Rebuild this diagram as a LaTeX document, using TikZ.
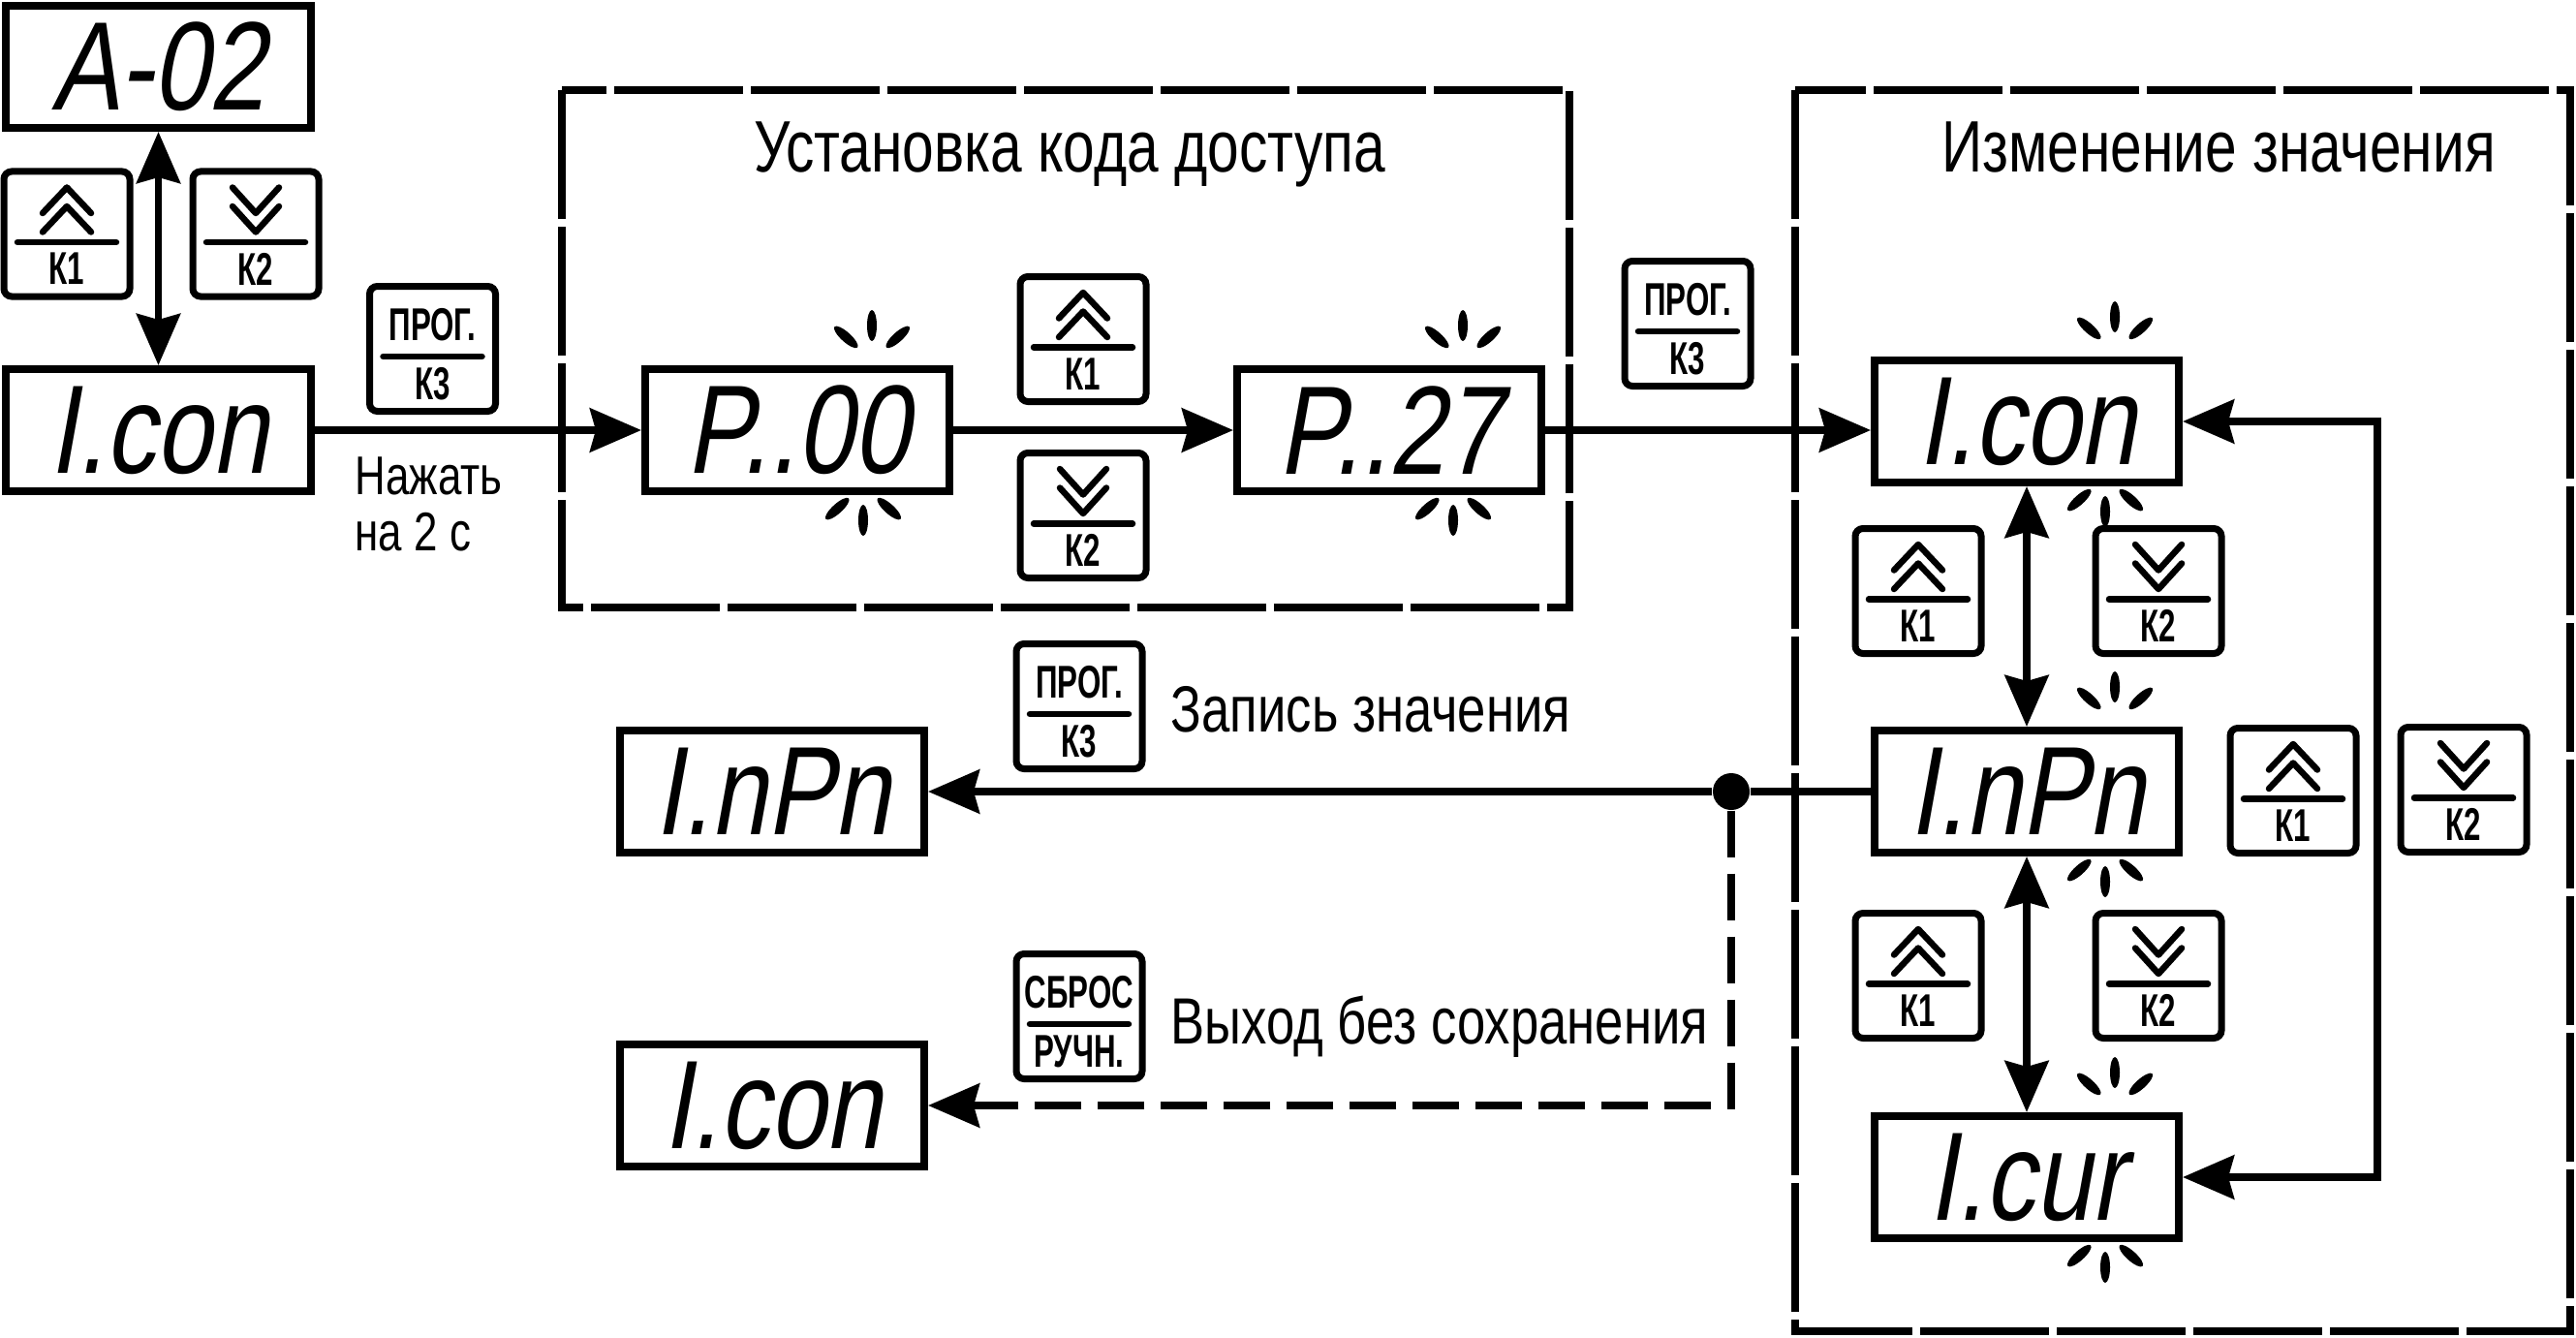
\documentclass[tikz,border=0pt]{standalone}
\usepackage{fontspec}
\setmainfont{Liberation Sans}[FakeStretch=0.78]
\newfontfamily\keyfont{Liberation Sans}[FakeStretch=0.66]
\newfontfamily\segfont{Liberation Sans}[FakeStretch=0.8,FakeSlant=0.18]
\usetikzlibrary{arrows.meta, positioning}

\tikzset{
  disp/.style={draw, line width=0.8mm, minimum width=3.14cm, minimum height=1.26cm,
    inner sep=0pt, font=\segfont\fontsize{37}{40}\selectfont},
  keybox/.style={draw, line width=0.7mm, rounded corners=0.8mm,
    minimum width=1.30cm, minimum height=1.29cm, inner sep=0pt},
  keytxt/.style={inner sep=0pt, font=\keyfont\bfseries\fontsize{13.5}{14}\selectfont},
  keybar/.style={line width=0.65mm, line cap=round, line join=round},
  frame/.style={line width=0.75mm, dash pattern=on 13.3mm off 0.8mm},
  link/.style={line width=0.75mm},
  title/.style={inner sep=0pt, font=\fontsize{21.4}{24}\selectfont},
  note/.style={inner sep=0pt, font=\fontsize{19.2}{22}\selectfont},
  hint/.style={inner sep=0pt, font=\fontsize{16}{18}\selectfont},
  pics/upkey/.style={code={
    \node[keybox] (-box) at (0,0) {};
    \draw[keybar] (-0.25,0.215) -- (0,0.48) -- (0.25,0.215)
                  (-0.25,0.02) -- (0,0.285) -- (0.25,0.02);
    \draw[keybar] (-0.51,-0.085) -- (0.51,-0.085);
    \node[keytxt] (-lbl) at (0,-0.36) {#1};
  }},
  pics/downkey/.style={code={
    \node[keybox] (-box) at (0,0) {};
    \draw[keybar] (-0.24,0.48) -- (0,0.215) -- (0.24,0.48)
                  (-0.24,0.285) -- (0,0.02) -- (0.24,0.285);
    \draw[keybar] (-0.51,-0.085) -- (0.51,-0.085);
    \node[keytxt] (-lbl) at (0,-0.36) {#1};
  }},
  pics/textkey/.style 2 args={code={
    \node[keybox] (-box) at (0,0) {};
    \node[keytxt] (-top) at (0,0.25) {#1};
    \draw[keybar] (-0.51,-0.08) -- (0.51,-0.08);
    \node[keytxt] (-lbl) at (0,-0.36) {#2};
  }},
  pics/blink/.style={code={
    \foreach \a in {-48,0,48}
      \fill[rotate=\a] (0,0.36) ellipse [x radius=0.05, y radius=0.16];
  }}
}

\begin{document}
\begin{tikzpicture}[>={Stealth[length=5.3mm, width=4.5mm, inset=0.6mm]}]
  \useasboundingbox (0,0) rectangle (26.59,-13.80);

  % frames
  \draw[frame] (5.80,-0.93) rectangle (16.20,-6.27);
  \draw[frame] (18.53,-0.93) rectangle (26.53,-13.74);
  \node[title, anchor=base] (setcode) at (11.04,-1.78) {Установка кода доступа};
  \node[title, anchor=base] (change) at (22.90,-1.78) {Изменение значения};

  % displays
  \node[disp] (a02) at (1.635,-0.69) {A-02};
  \node[disp] (con0) at (1.635,-4.44) {I.con};
  \node[disp] (p00) at (8.23,-4.44) {P..00};
  \node[disp] (p27) at (14.34,-4.44) {P..27};
  \node[disp] (con1) at (20.92,-4.35) {I.con};
  \node[disp] (npn1) at (20.92,-8.17) {I.nPn};
  \node[disp] (cur1) at (20.92,-12.15) {I.cur};
  \node[disp] (npn0) at (7.97,-8.17) {I.nPn};
  \node[disp] (con2) at (7.97,-11.41) {I.con};

  % keys
  \pic (k1a) at (0.69,-2.415) {upkey=К1};
  \pic (k2a) at (2.64,-2.415) {downkey=К2};
  \pic (prog0) at (4.465,-3.60) {textkey={ПРОГ.}{К3}};
  \pic (k1b) at (11.18,-3.50) {upkey=К1};
  \pic (k2b) at (11.18,-5.32) {downkey=К2};
  \pic (prog1) at (17.42,-3.34) {textkey={ПРОГ.}{К3}};
  \pic (k1c) at (19.80,-6.10) {upkey=К1};
  \pic (k2c) at (22.28,-6.10) {downkey=К2};
  \pic (k1d) at (19.80,-10.07) {upkey=К1};
  \pic (k2d) at (22.28,-10.07) {downkey=К2};
  \pic (k1e) at (23.67,-8.16) {upkey=К1};
  \pic (k2e) at (25.43,-8.15) {downkey=К2};
  \pic (prog2) at (11.14,-7.29) {textkey={ПРОГ.}{К3}};
  \pic (reset) at (11.14,-10.49) {textkey={СБРОС}{РУЧН.}};

  % blinking marks
  \pic at ([xshift=-8.4mm, yshift=0.5mm]p00.north east) {blink};
  \pic[rotate=180] at ([xshift=-9.3mm, yshift=1mm]p00.south east) {blink};
  \pic at ([xshift=-8.5mm, yshift=0.5mm]p27.north east) {blink};
  \pic[rotate=180] at ([xshift=-9.5mm, yshift=1mm]p27.south east) {blink};
  \foreach \d in {con1, npn1, cur1} {
    \pic at ([xshift=-7mm, yshift=0.5mm]\d.north east) {blink};
    \pic[rotate=180] at ([xshift=-8mm, yshift=1mm]\d.south east) {blink};
  }

  % texts
  \node[hint, anchor=base west] (hold1) at (3.66,-5.10) {Нажать};
  \node[hint, anchor=base west] (hold2) at (3.66,-5.68) {на 2 с};
  \node[note, anchor=base west] (save) at (12.08,-7.55) {Запись значения};
  \node[note, anchor=base west] (quit) at (12.08,-10.77) {Выход без сохранения};

  % connectors
  \draw[link, <->] (a02.south) -- (con0.north);
  \draw[link, ->] (con0.east) -- (p00.west);
  \draw[link, ->] (p00.east) -- (p27.west);
  \draw[link, ->] (p27.east) -- (p27.east -| con1.west);
  \draw[link, <->] (con1.south) -- (npn1.north);
  \draw[link, <->] (npn1.south) -- (cur1.north);
  \coordinate (loop) at (24.54,-8.17);
  \draw[link, <->] (con1.east) -| (loop) |- (cur1.east);
  \node[circle, fill, inner sep=0pt, minimum size=3.8mm] (dot) at (17.87,-8.17) {};
  \draw[link] (npn1.west) -- (dot);
  \draw[link, ->] (dot) -- (npn0.east);
  \draw[link, ->, dash pattern=on 4.8mm off 1.7mm] (dot) |- (con2.east);
\end{tikzpicture}
\end{document}
